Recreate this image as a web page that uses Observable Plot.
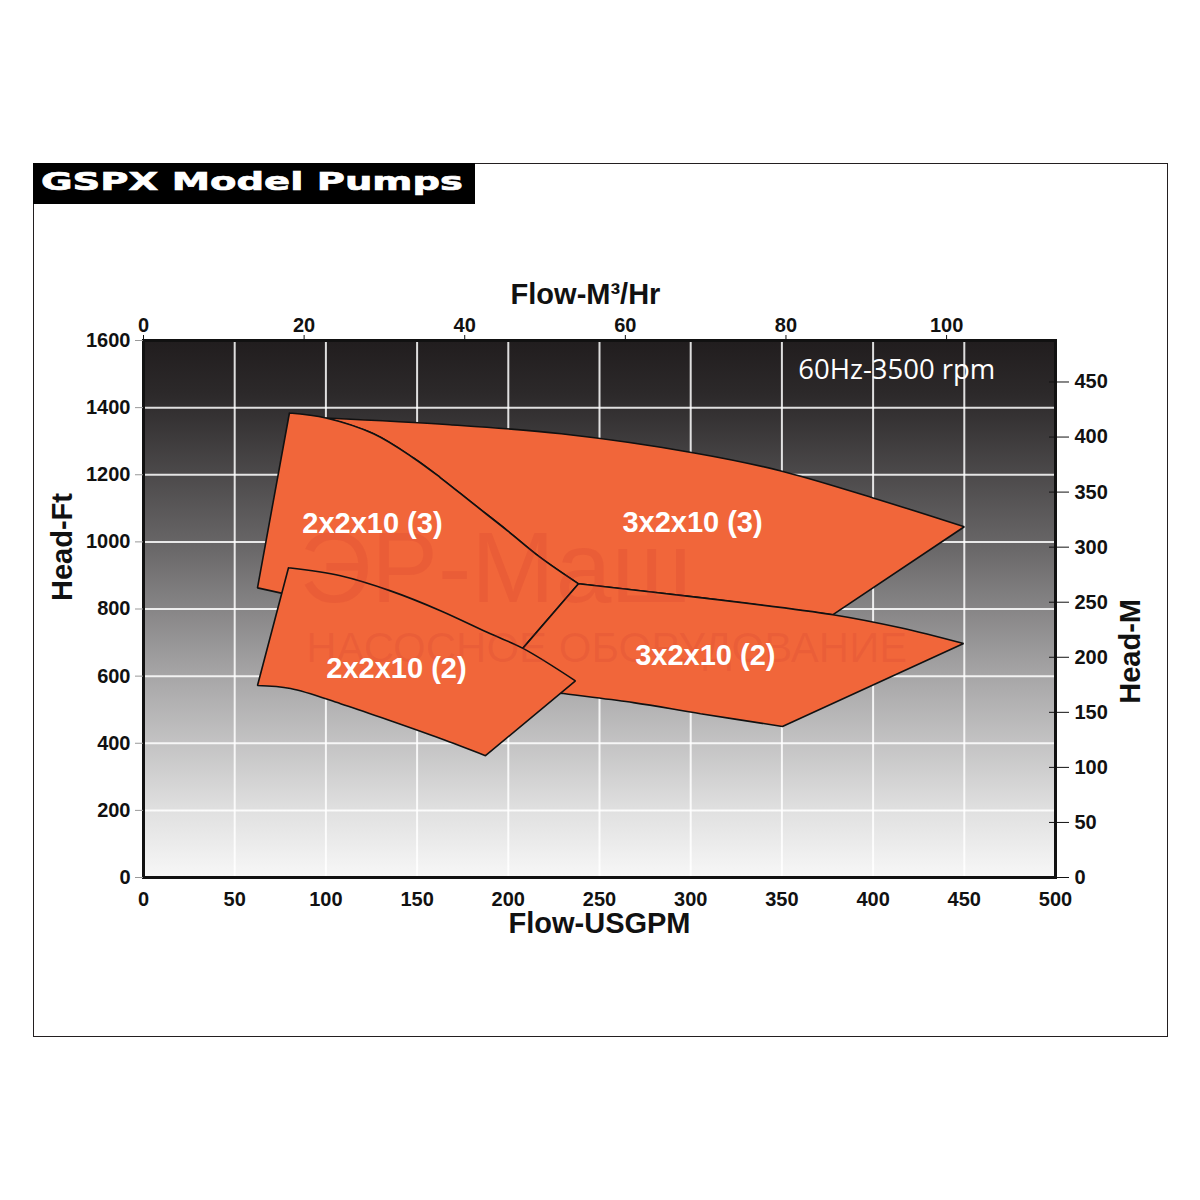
<!DOCTYPE html>
<html><head><meta charset="utf-8">
<script src="https://cdn.jsdelivr.net/npm/d3@7"></script>
<script src="https://cdn.jsdelivr.net/npm/@observablehq/plot@0.6"></script>
<style>
body{margin:0;background:#fff;}
#wrap{position:relative;width:1200px;height:1200px;overflow:hidden;background:#fff;}
#box{position:absolute;left:33px;top:163px;width:1133px;height:872px;border:1px solid #231f20;}
#title{position:absolute;left:0;top:0;}
#chart{position:absolute;left:0;top:0;}
</style></head>
<body>
<div id="wrap">
  <div id="box"></div>
  <div id="chart"></div>
  <svg id="title" width="1200" height="220">
    <rect x="33" y="163" width="442" height="41" fill="#000"></rect>
    <text x="41" y="190" fill="#fff" stroke="#fff" stroke-width="0.7" font-family="DejaVu Sans" font-weight="bold" font-size="25.5" textLength="422" lengthAdjust="spacingAndGlyphs">GSPX Model Pumps</text>
  </svg>
</div>
<script>
// unit conversions
const GPM_PER_M3 = 4.402868;
const FT_PER_M = 3.28084;

// axis ticks
const flowTicksGPM = [0, 50, 100, 150, 200, 250, 300, 350, 400, 450, 500];
const headTicksFt = [0, 200, 400, 600, 800, 1000, 1200, 1400, 1600];
const flowTicksM3 = [0, 20, 40, 60, 80, 100];
const headTicksM = [0, 50, 100, 150, 200, 250, 300, 350, 400, 450];
const gridFlow = [50, 100, 150, 200, 250, 300, 350, 400, 450];
const gridHead = [200, 400, 600, 800, 1000, 1200, 1400];

// pump coverage regions [USGPM, Head-Ft, sharp corner?]
const region3x2x10_3 = [
  [100, 1369, 1], [168, 1349, 0], [229, 1322, 0], [302, 1265, 0], [349, 1212, 0], [400, 1131, 0], [450, 1045, 1],
  [378, 783, 1], [305, 834, 0], [238.5, 875, 1],
  [217.7, 953, 0], [199.6, 1033, 0], [180.9, 1113, 0], [162.8, 1191, 0], [148, 1250, 0], [126.1, 1322, 0]
];
const region2x2x10_3 = [
  [80, 1384, 1], [100, 1369, 0], [126.1, 1322, 0], [148, 1250, 0], [162.8, 1191, 0], [180.9, 1113, 0], [199.6, 1033, 0],
  [217.7, 953, 0], [238.5, 875, 1], [207.8, 682, 1], [140.9, 759, 0], [86.1, 834, 0], [62.5, 863, 1]
];
const region3x2x10_2 = [
  [238.5, 875, 1], [305, 834, 0], [378, 783, 0], [415, 744, 0], [449.6, 697, 1], [350.3, 450, 1], [305.4, 488, 0],
  [268.6, 521, 0], [230.3, 548, 0], [212.2, 563, 0], [207.8, 682, 1]
];
const region2x2x10_2 = [
  [79.5, 923, 1], [108, 899, 0], [135.4, 854, 0], [162.8, 795, 0], [190.2, 726, 0], [208.3, 682, 0], [236.8, 586, 1],
  [187.5, 363, 1], [162.8, 414, 0], [135.4, 467, 0], [108, 518, 0], [80.6, 563, 0], [62.5, 572, 1]
];

const regionNames = ["2x2x10 (3)", "3x2x10 (3)", "2x2x10 (2)", "3x2x10 (2)"];
const labelFlow = [125.5, 301, 138.7, 308];
const labelHead = [1054, 1057, 622, 661];

const noteText = ["60Hz-3500 rpm"];
const noteFlow = [413];
const noteHead = [1512];

const watermarkText = ["ЭР-Маш", "НАСОСНОЕ ОБОРУДОВАНИЕ"];
const watermarkFlow = [193, 254];
const watermarkHead = [915, 682];

// closed outline; sharp corners are emitted twice so the Catmull-Rom curve keeps them straight
function outline(pts) {
  const closed = pts.concat([pts[0]]);
  const out = [];
  for (const [x, y, c] of closed) {
    out.push({x, y});
    if (c) out.push({x, y});
  }
  return out;
}

const labels = regionNames.map((t, i) => ({t, x: labelFlow[i], y: labelHead[i]}));
const notes = noteText.map((t, i) => ({t, x: noteFlow[i], y: noteHead[i]}));
const wm = watermarkText.map((t, i) => ({t, x: watermarkFlow[i], y: watermarkHead[i]}));

const ORANGE = "#f1663a";
const polyOpts = {x: "x", y: "y", fill: ORANGE, stroke: "#111", strokeWidth: 1.6, strokeLinejoin: "miter", curve: "catmull-rom"};
const font = "'Liberation Sans', Arial, sans-serif";
const fmt = d => String(d);

const svg = Plot.plot({
  width: 1200,
  height: 1200,
  marginLeft: 143,
  marginRight: 145,
  marginTop: 340,
  marginBottom: 323,
  style: {fontFamily: font, color: "#111", background: "transparent"},
  x: {domain: [0, 500]},
  y: {domain: [0, 1600]},
  marks: [
    Plot.frame({fill: "url(#bggrad)"}),
    Plot.ruleX(gridFlow, {stroke: "#fff", strokeWidth: 2, strokeOpacity: 0.85}),
    Plot.ruleY(gridHead, {stroke: "#fff", strokeWidth: 2, strokeOpacity: 0.85}),
    Plot.line(outline(region3x2x10_3), polyOpts),
    Plot.line(outline(region2x2x10_3), polyOpts),
    Plot.line(outline(region3x2x10_2), polyOpts),
    Plot.line(outline(region2x2x10_2), polyOpts),
    Plot.text(wm.slice(0, 1), {x: "x", y: "y", text: "t", fontSize: 100, fill: "#c0282a", fillOpacity: 0.13, fontFamily: font}),
    Plot.text(wm.slice(1), {x: "x", y: "y", text: "t", fontSize: 42, fill: "#c0282a", fillOpacity: 0.13, fontFamily: font}),
    Plot.text(labels, {x: "x", y: "y", text: "t", fill: "#fff", fontSize: 29, fontWeight: "bold", fontFamily: font}),
    Plot.text(notes, {x: "x", y: "y", text: "t", fill: "#fff", fontSize: 27.5, fontFamily: "'Open Sans', 'Noto Sans', sans-serif"}),
    Plot.frame({stroke: "#111", strokeWidth: 3}),
    Plot.axisX(flowTicksGPM, {anchor: "bottom", tickSize: 0, tickPadding: 14, tickFormat: fmt, fontSize: 20, fontWeight: "bold", label: null}),
    Plot.axisX(flowTicksM3.map(d => d * GPM_PER_M3), {anchor: "top", tickSize: 6, tickPadding: 3, tickFormat: d => String(Math.round(d / GPM_PER_M3)), fontSize: 20, fontWeight: "bold", label: null}),
    Plot.axisY(headTicksFt, {anchor: "left", tickSize: 8, tickPadding: 5, tickFormat: fmt, stroke: "#999", fill: "#111", fontSize: 20, fontWeight: "bold", label: null}),
    Plot.axisY(headTicksM.map(d => d * FT_PER_M), {anchor: "right", tickSize: 20, dx: -7, tickPadding: 6, tickFormat: d => String(Math.round(d / FT_PER_M)), fontSize: 20, fontWeight: "bold", label: null}),
    Plot.text(["Flow-USGPM"], {frameAnchor: "bottom", dy: 55, fontSize: 29, fontWeight: "bold"}),
    Plot.text(["Flow-M³/Hr"], {frameAnchor: "top", dx: -14, dy: -57, fontSize: 29, fontWeight: "bold"}),
    Plot.text(["Head-Ft"], {frameAnchor: "left", dx: -81, dy: -8, rotate: -90, fontSize: 29, fontWeight: "bold"}),
    Plot.text(["Head-M"], {frameAnchor: "right", dx: 75, dy: -10, rotate: -90, fontSize: 29, fontWeight: "bold"})
  ]
});

const defs = d3.select(svg).insert("defs", ":first-child");
const grad = defs.append("linearGradient").attr("id", "bggrad").attr("x1", 0).attr("y1", 0).attr("x2", 0).attr("y2", 1);
[[0, "#211d1e"], [0.1, "#2c292a"], [0.38, "#686667"], [0.63, "#a8a7a8"], [0.88, "#e1e1e1"], [1, "#f7f7f7"]]
  .forEach(([o, c]) => grad.append("stop").attr("offset", o).attr("stop-color", c));

document.getElementById("chart").appendChild(svg);
</script>
</body></html>
